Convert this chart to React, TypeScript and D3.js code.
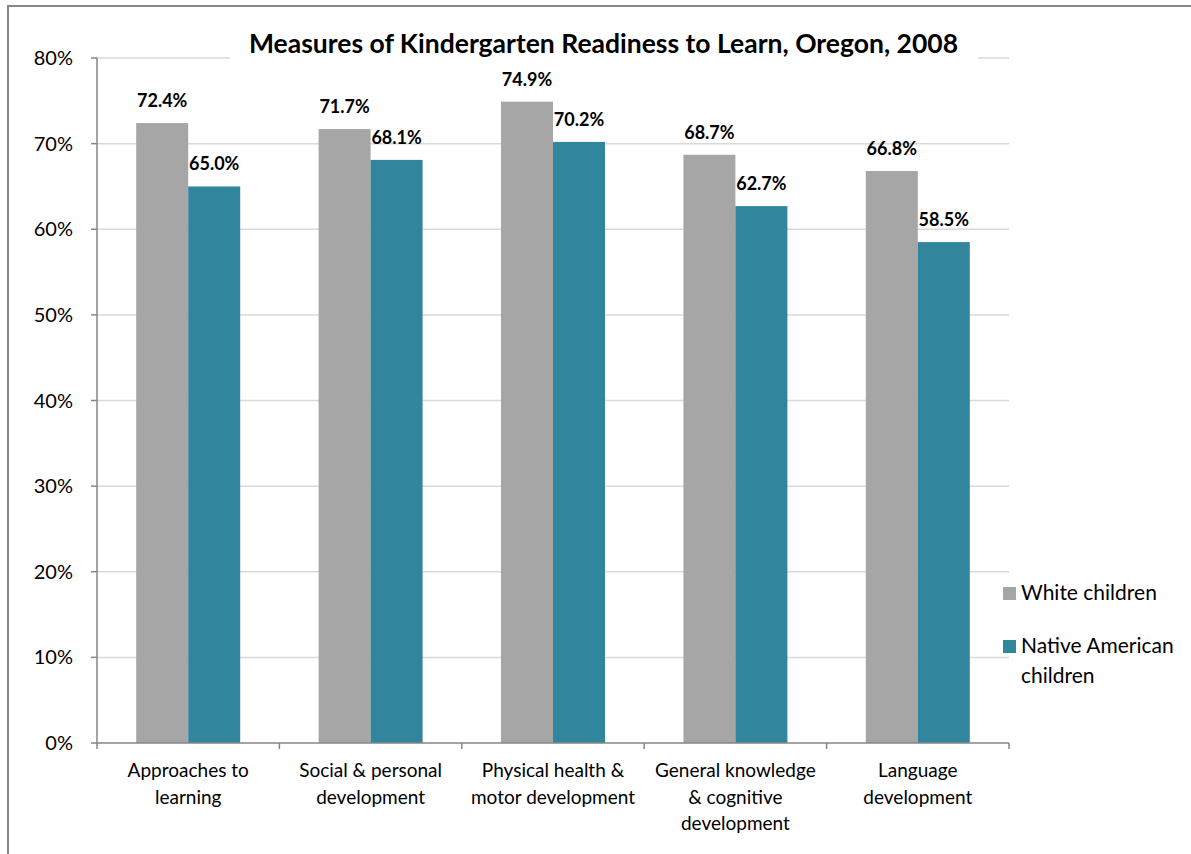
import React from "react";
import * as d3 from "d3";

const categories: string[][] = [
  ["Approaches to", "learning"],
  ["Social & personal", "development"],
  ["Physical health &", "motor development"],
  ["General knowledge", "& cognitive", "development"],
  ["Language", "development"],
];
const seriesNames = ["White children", "Native American children"];
const whiteValues = [72.4, 71.7, 74.9, 68.7, 66.8];
const nativeValues = [65.0, 68.1, 70.2, 62.7, 58.5];
const yTicks = [0, 10, 20, 30, 40, 50, 60, 70, 80];
const colors = ["#A6A6A6", "#31859C"];
const title = "Measures of Kindergarten Readiness to Learn, Oregon, 2008";

const FONT = "Lato, 'Open Sans', sans-serif";

export default function App() {
  const W = 1191, H = 854;
  const left = 97, right = 1009, top = 58, bottom = 743;
  const keys = categories.map((_, i) => String(i));
  const x = d3.scaleBand<string>().domain(keys).range([left, right]).paddingInner(0).paddingOuter(0);
  const y = d3.scaleLinear().domain([0, 80]).range([bottom, top]);
  const inner = d3.scaleBand<string>().domain(["0", "1"]).range([0, x.bandwidth()]).paddingInner(0).paddingOuter(0.754);
  const series = [whiteValues, nativeValues];

  return (
    <svg width={W} height={H} style={{ position: "absolute", left: 0, top: 0, display: "block" }} viewBox={`0 0 ${W} ${H}`}>
      <rect x={0} y={0} width={W} height={H} fill="#fff" />
      {/* chart border */}
      <line x1={7} x2={W} y1={6} y2={6} stroke="#878787" strokeWidth={2} />
      <line x1={8} x2={8} y1={5} y2={H} stroke="#878787" strokeWidth={2} />
      {/* gridlines */}
      {yTicks.filter(t => t > 0).map(t => (
        <line key={t} x1={left} x2={right} y1={y(t)} y2={y(t)} stroke="#D9D9D9" strokeWidth={1.5} />
      ))}
      {/* bars */}
      {series.map((vals, s) =>
        vals.map((v, i) => (
          <rect key={`${s}-${i}`} x={(x(String(i)) as number) + (inner(String(s)) as number)} y={y(v)}
            width={inner.bandwidth()} height={y(0) - y(v)} fill={colors[s]} />
        ))
      )}
      {/* data labels */}
      {series.map((vals, s) =>
        vals.map((v, i) => (
          <text key={`l${s}-${i}`} x={(x(String(i)) as number) + (inner(String(s)) as number) + inner.bandwidth() / 2}
            y={y(v) - 16} textAnchor="middle" fontFamily={FONT} fontWeight="bold" fontSize={18} fill="#000">
            {v.toFixed(1)}%
          </text>
        ))
      )}
      {/* y axis */}
      <line x1={left} x2={left} y1={top} y2={bottom} stroke="#868686" strokeWidth={1.5} />
      {yTicks.map(t => (
        <g key={`yt${t}`}>
          <line x1={left - 6} x2={left} y1={y(t)} y2={y(t)} stroke="#868686" strokeWidth={1.5} />
          <text x={73} y={y(t) + 7} textAnchor="end" fontFamily={FONT} fontSize={20} fill="#000">{t}%</text>
        </g>
      ))}
      {/* x axis */}
      <line x1={left} x2={right} y1={bottom} y2={bottom} stroke="#868686" strokeWidth={1.5} />
      {[...keys.map(k => x(k) as number), right].map((px, i) => (
        <line key={`xt${i}`} x1={px} x2={px} y1={bottom} y2={bottom + 6} stroke="#868686" strokeWidth={1.5} />
      ))}
      {categories.map((lines, i) => (
        <text key={`c${i}`} textAnchor="middle" fontFamily={FONT} fontSize={19} fill="#000">
          {lines.map((ln, j) => (
            <tspan key={j} x={(x(String(i)) as number) + x.bandwidth() / 2} y={777 + j * 26.5}>{ln}</tspan>
          ))}
        </text>
      ))}
      {/* title */}
      <rect x={230} y={28} width={748} height={42} fill="#fff" />
      <text x={603.5} y={53} textAnchor="middle" fontFamily={FONT} fontWeight="bold" fontSize={26.5} fill="#000">{title}</text>
      {/* legend */}
      <rect x={1003} y={587} width={13} height={13} fill={colors[0]} />
      <text x={1021} y={600} fontFamily={FONT} fontSize={21} fill="#000">{seriesNames[0]}</text>
      <rect x={1003} y={640} width={13} height={13} fill={colors[1]} />
      <text fontFamily={FONT} fontSize={21} fill="#000">
        <tspan x={1021} y={653}>Native American</tspan>
        <tspan x={1021} y={683}>children</tspan>
      </text>
    </svg>
  );
}
